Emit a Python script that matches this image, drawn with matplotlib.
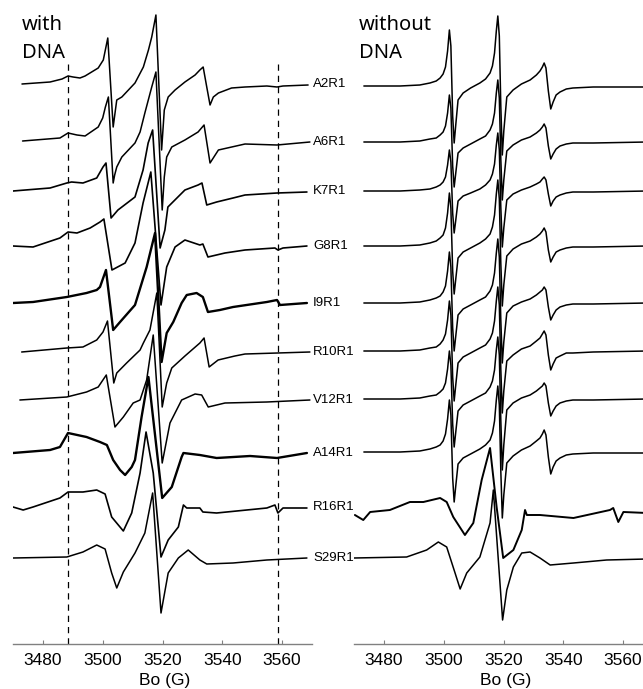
import matplotlib
matplotlib.use('Agg')
import matplotlib.pyplot as plt

plt.rcParams['font.family'] = ['Liberation Sans', 'DejaVu Sans']

# ---------------- data (field in G, intensity in a.u.) ----------------
labels = ['A2R1', 'A6R1', 'K7R1', 'G8R1', 'I9R1', 'R10R1', 'V12R1', 'A14R1', 'R16R1', 'S29R1']
xticks = [3480, 3500, 3520, 3540, 3560]
dna_marks = [3488.5, 3558.5]

# with DNA
w_A2R1_B = [3473.0, 3482.4, 3486.4, 3488.4, 3490.1, 3492.4, 3494.1, 3498.5, 3500.2, 3501.7, 3503.5, 3504.7, 3506.4, 3510.8, 3513.6, 3515.3, 3516.4, 3517.8, 3519.7, 3520.6, 3521.9, 3524.2, 3527.5, 3530.9, 3532.5, 3533.6, 3534.8, 3535.9, 3537.0, 3538.7, 3543.1, 3547.6, 3554.9, 3558.3, 3560.3, 3568.7]
w_A2R1_I = [0, 2, 5, 8, 7, 6, 8, 16, 24, 46, -43, -16, -13, 1, 17, 34, 47, 69, -66, -26, -13, -6, 2, 9, 14, 17, -3, -21, -13, -9, -4, -3, -2, -3, -2, -1]
w_A6R1_B = [3473.2, 3485.7, 3488.4, 3491.4, 3494.1, 3498.5, 3500.0, 3500.9, 3501.9, 3503.5, 3504.0, 3504.7, 3506.4, 3510.8, 3512.5, 3514.1, 3516.4, 3517.8, 3519.9, 3520.6, 3521.4, 3523.1, 3527.5, 3531.9, 3533.9, 3535.9, 3538.7, 3547.6, 3558.3, 3569.3]
w_A6R1_I = [1, 4, 9, 7, 6, 15, 24, 35, 45, -41, -33, -25, -15, -1, 10, 29, 55, 70, -68, -35, -15, -5, 2, 10, 17, -21, -8, -2, -3, 0]
w_K7R1_B = [3470.0, 3482.4, 3488.0, 3489.6, 3493.4, 3498.0, 3500.1, 3501.1, 3502.8, 3505.1, 3510.8, 3513.5, 3515.2, 3516.7, 3519.2, 3520.8, 3521.8, 3527.5, 3531.9, 3533.2, 3534.8, 3538.1, 3543.6, 3547.6, 3558.3, 3568.3]
w_K7R1_I = [0, 3, 8, 9, 8, 13, 24, 28, -27, -19, -6, 21, 48, 61, -57, -39, -16, 1, 6, 8, -14, -11, -7, -4, -2, -1]
w_G8R1_B = [3470.0, 3476.7, 3485.7, 3488.4, 3491.4, 3495.8, 3499.1, 3500.4, 3503.1, 3507.5, 3510.8, 3513.5, 3516.1, 3519.5, 3521.4, 3524.2, 3527.5, 3532.5, 3533.5, 3535.2, 3540.9, 3547.6, 3557.6, 3558.6, 3560.3, 3568.3]
w_G8R1_I = [0, -1, 8, 14, 13, 18, 24, 27, -24, -17, 3, 43, 74, -59, -21, -1, 6, 1, 2, -11, -7, -4, -2, -4, -2, 0]
w_I9R1_B = [3470.0, 3476.7, 3488.0, 3494.6, 3498.0, 3499.1, 3501.1, 3503.5, 3505.8, 3510.8, 3514.7, 3517.5, 3519.7, 3521.4, 3523.6, 3526.4, 3528.1, 3531.4, 3533.5, 3535.2, 3539.2, 3543.6, 3554.9, 3558.3, 3559.3, 3568.3]
w_I9R1_I = [0, 1, 6, 10, 13, 16, 33, -27, -19, -2, 36, 70, -59, -30, -19, 0, 8, 10, 6, -9, -7, -4, 1, 3, -2, 0]
w_R10R1_B = [3472.9, 3488.0, 3493.4, 3498.0, 3500.1, 3501.6, 3503.7, 3504.7, 3508.0, 3512.5, 3513.6, 3515.8, 3518.1, 3519.9, 3521.4, 3523.1, 3527.5, 3532.5, 3533.9, 3535.6, 3538.6, 3544.2, 3547.6, 3569.3]
w_R10R1_I = [0, 4, 5, 12, 20, 31, -31, -21, -11, 2, 9, 22, 59, -55, -31, -16, -4, 9, 14, -15, -8, -4, -2, 0]
w_V12R1_B = [3472.3, 3488.0, 3494.6, 3498.5, 3501.2, 3504.1, 3506.9, 3510.2, 3512.5, 3514.7, 3516.9, 3519.9, 3522.5, 3526.4, 3530.9, 3533.1, 3535.3, 3540.9, 3554.9, 3569.3]
w_V12R1_I = [0, 3, 8, 13, 25, -27, -17, -3, 0, 20, 65, -63, -23, 0, 6, 5, -7, -3, -2, 0]
w_A14R1_B = [3470.0, 3482.4, 3485.7, 3488.4, 3494.6, 3499.1, 3501.4, 3503.5, 3505.8, 3507.5, 3509.7, 3510.8, 3513.0, 3515.3, 3519.9, 3523.1, 3526.4, 3527.0, 3532.5, 3538.1, 3549.3, 3558.3, 3568.3]
w_A14R1_I = [0, 3, 6, 20, 16, 11, 8, -7, -17, -22, -14, -7, 36, 76, -45, -34, -4, 0, -2, -5, -3, -5, 0]
w_R16R1_B = [3470.0, 3473.4, 3476.7, 3485.7, 3488.4, 3493.4, 3498.0, 3500.8, 3503.0, 3506.9, 3509.7, 3512.5, 3514.5, 3516.9, 3519.5, 3521.9, 3525.3, 3527.0, 3528.1, 3532.5, 3533.5, 3538.1, 3554.9, 3557.6, 3558.6, 3560.3, 3568.3]
w_R16R1_I = [0, -3, 0, 9, 15, 15, 17, 13, -10, -24, -6, 34, 75, 34, -50, -33, -20, 2, -1, -1, -5, -6, -1, 2, -6, -1, -1]
w_S29R1_B = [3470.0, 3488.0, 3493.4, 3498.0, 3500.8, 3503.0, 3504.7, 3506.9, 3510.8, 3514.1, 3516.7, 3519.5, 3521.9, 3525.3, 3528.6, 3532.5, 3534.8, 3543.6, 3554.9, 3568.3]
w_S29R1_I = [0, 1, 6, 13, 9, -15, -30, -14, 5, 25, 65, -55, -15, 0, 8, -2, -6, -5, -2, 0]

# without DNA (narrow three-line spectra share one field grid)
wo_B = [3473.3, 3485.4, 3492.0, 3495.4, 3497.5, 3498.8, 3499.8, 3500.6, 3501.3, 3501.9,
        3502.4, 3503.0, 3503.5, 3504.0, 3504.8, 3506.5, 3509.0, 3512.1, 3514.0, 3515.5,
        3516.3, 3517.0, 3517.6, 3518.1, 3518.6, 3519.1, 3519.6, 3520.1, 3521.1, 3523.2,
        3526.0, 3528.9, 3531.0, 3532.2, 3533.0, 3533.6, 3534.2, 3535.0, 3535.8, 3536.6,
        3537.6, 3538.9, 3541.0, 3543.2, 3550.0, 3568.0]
wo_A2R1_I = [0, 0, 1, 3, 5, 8, 12, 19, 35, 56, 40, -30, -57, -40, -14, -7, -2, 3, 7, 13, 20, 33, 55, 70, 50, -20, -69, -45, -11, -4, 2, 6, 11, 15, 19, 23, 18, -5, -23, -16, -9, -6, -3, -2, -1, -1]
wo_A6R1_I = [0, 0, 1, 3, 4, 7, 10, 16, 29, 47, 34, -24, -45, -32, -11, -6, -2, 3, 6, 12, 18, 29, 49, 62, 44, -17, -58, -38, -9, -3, 2, 5, 9, 12, 15, 18, 14, -4, -17, -12, -7, -4, -2, -1, -1, 0]
wo_K7R1_I = [0, 0, 1, 2, 4, 6, 9, 14, 26, 41, 29, -22, -42, -30, -10, -5, -2, 2, 6, 11, 17, 27, 46, 58, 41, -16, -56, -37, -9, -3, 1, 4, 7, 9, 12, 14, 11, -3, -15, -10, -6, -4, -2, -1, -1, 0]
wo_G8R1_I = [0, 0, 1, 3, 5, 8, 11, 18, 33, 53, 38, -25, -48, -34, -12, -6, -2, 3, 7, 12, 19, 31, 52, 66, 47, -17, -60, -39, -10, -3, 2, 5, 9, 12, 15, 18, 14, -4, -16, -11, -6, -4, -2, -1, -1, 0]
wo_I9R1_I = [0, 0, 1, 3, 5, 7, 11, 17, 32, 51, 36, -25, -48, -34, -12, -6, -2, 3, 6, 12, 18, 30, 50, 64, 46, -17, -60, -39, -10, -3, 1, 4, 8, 11, 13, 16, 13, -4, -17, -12, -7, -4, -2, -1, -1, 0]
wo_R10R1_I = [0, 0, 1, 3, 4, 7, 11, 17, 31, 50, 36, -26, -50, -35, -12, -6, -2, 3, 6, 12, 18, 30, 50, 64, 46, -18, -62, -40, -10, -4, 2, 5, 10, 13, 17, 20, 16, -4, -19, -13, -7, -5, -2, -2, -1, 0]
wo_V12R1_I = [0, 0, 1, 3, 4, 7, 10, 16, 30, 48, 34, -25, -48, -34, -12, -6, -2, 3, 6, 12, 18, 29, 49, 62, 44, -21, -71, -46, -11, -4, 1, 4, 8, 11, 13, 16, 13, -4, -17, -12, -7, -4, -2, -1, -1, 0]
wo_A14R1_I = [0, 0, 1, 3, 5, 7, 11, 18, 33, 52, 37, -26, -50, -35, -12, -6, -2, 3, 7, 12, 19, 31, 52, 66, 47, -19, -66, -43, -11, -4, 2, 6, 11, 14, 18, 22, 17, -5, -22, -15, -9, -6, -3, -2, -1, -1]
wo_R16R1_B = [3470.3, 3473.1, 3475.4, 3482.0, 3488.7, 3493.2, 3498.8, 3501.0, 3503.2, 3507.1, 3509.9, 3512.7, 3515.5, 3517.7, 3519.9, 3523.3, 3526.1, 3527.2, 3527.8, 3532.2, 3543.4, 3555.6, 3556.7, 3558.4, 3560.1, 3568.0]
wo_R16R1_I = [-2, -7, 1, 3, 11, 11, 15, 11, -4, -22, -10, 33, 65, 6, -45, -37, -17, 3, -2, -2, -5, 3, 5, -9, 1, 0]
wo_S29R1_B = [3470.0, 3487.6, 3494.3, 3498.2, 3501.0, 3503.8, 3505.5, 3507.7, 3512.1, 3515.5, 3516.6, 3519.7, 3521.1, 3523.3, 3526.1, 3528.9, 3532.2, 3535.6, 3543.4, 3554.5, 3568.0]
wo_S29R1_I = [0, 1, 8, 16, 11, -15, -31, -15, 1, 35, 68, -62, -32, -9, 5, 6, 0, -7, -5, -2, -1]

with_traces = [
    (w_A2R1_B, w_A2R1_I), (w_A6R1_B, w_A6R1_I), (w_K7R1_B, w_K7R1_I),
    (w_G8R1_B, w_G8R1_I), (w_I9R1_B, w_I9R1_I), (w_R10R1_B, w_R10R1_I),
    (w_V12R1_B, w_V12R1_I), (w_A14R1_B, w_A14R1_I), (w_R16R1_B, w_R16R1_I),
    (w_S29R1_B, w_S29R1_I)]
without_traces = [
    (wo_B, wo_A2R1_I), (wo_B, wo_A6R1_I), (wo_B, wo_K7R1_I), (wo_B, wo_G8R1_I),
    (wo_B, wo_I9R1_I), (wo_B, wo_R10R1_I), (wo_B, wo_V12R1_I), (wo_B, wo_A14R1_I),
    (wo_R16R1_B, wo_R16R1_I), (wo_S29R1_B, wo_S29R1_I)]

# ---------------- layout ----------------
W, H = 643, 689
with_offsets = [84, 142, 191, 246, 303, 352, 400, 453, 507, 558]
without_offsets = [86, 142, 191, 246, 303, 351, 399, 452, 513, 558]
with_lw = [1.1, 1.1, 1.2, 1.2, 1.7, 1.1, 1.1, 1.7, 1.2, 1.1]
without_lw = [1.1] * 8 + [1.4, 1.1]
AX_BOTTOM_PX = 644

fig = plt.figure(figsize=(W / 100, H / 100), dpi=100)


def make_axes(left_px):
    ax = fig.add_axes([left_px / W, (H - AX_BOTTOM_PX) / H, 299 / W, AX_BOTTOM_PX / H])
    ax.set_xlim(3470, 3570)
    ax.set_ylim(AX_BOTTOM_PX, 0)
    for s in ['top', 'left', 'right']:
        ax.spines[s].set_visible(False)
    ax.spines['bottom'].set_color('#808080')
    ax.spines['bottom'].set_linewidth(1.0)
    ax.set_yticks([])
    ax.set_xticks(xticks)
    ax.set_xticklabels([str(t) for t in xticks], fontsize=12.5)
    ax.tick_params(axis='x', direction='in', length=3, width=0.8, color='#808080', pad=6.5)
    ax.patch.set_visible(False)
    return ax


axL = make_axes(13)
axR = make_axes(354)

for (B, I), off, lw in zip(with_traces, with_offsets, with_lw):
    axL.plot(B, [off - v for v in I], color='black', lw=lw,
             solid_joinstyle='round', solid_capstyle='round')
for (B, I), off, lw in zip(without_traces, without_offsets, without_lw):
    axR.plot(B, [off - v for v in I], color='black', lw=lw,
             solid_joinstyle='round', solid_capstyle='round')

for m in dna_marks:
    axL.plot([m, m], [AX_BOTTOM_PX, 60], color='black', lw=0.9, dashes=(5, 4))

for lab, off in zip(labels, with_offsets):
    axL.text(3570.4, off, lab, fontsize=9.5, va='center', ha='left', clip_on=False)

hdr = dict(fontsize=14.5, va='baseline', ha='left', family=['Noto Sans', 'DejaVu Sans'])
fig.text(22 / W, 1 - 30 / H, 'with', **hdr)
fig.text(22 / W, 1 - 58 / H, 'DNA', **hdr)
fig.text(359 / W, 1 - 30 / H, 'without', **hdr)
fig.text(359 / W, 1 - 58 / H, 'DNA', **hdr)

fig.text(165 / W, 1 - 685 / H, 'Bo (G)', fontsize=12.5, va='baseline', ha='center')
fig.text(506 / W, 1 - 685 / H, 'Bo (G)', fontsize=12.5, va='baseline', ha='center')

fig.savefig('out.png', dpi=100)
